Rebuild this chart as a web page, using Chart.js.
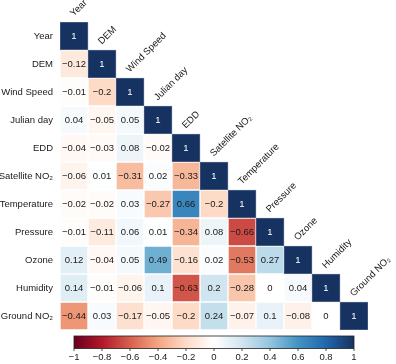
<!DOCTYPE html>
<html lang="en">
<head>
<meta charset="UTF-8">
<title>Correlation Heatmap</title>
<style>
  html, body { margin: 0; padding: 0; background: #fff; }
  #wrap { width: 396px; height: 364px; }
</style>
</head>
<body>
<div id="wrap"><canvas id="ctx"></canvas></div>
<script src="https://cdn.jsdelivr.net/npm/chart.js"></script>
<script>
// Variable names (rows and columns)
const variables = ['Year', 'DEM', 'Wind Speed', 'Julian day', 'EDD', 'Satellite NO₂',
    'Temperature', 'Pressure', 'Ozone', 'Humidity', 'Ground NO₂'];

// Lower triangle of the correlation matrix, one row per variable
const rowYear        = [1];
const rowDEM         = [-0.12, 1];
const rowWindSpeed   = [-0.01, -0.2, 1];
const rowJulianDay   = [0.04, -0.05, 0.05, 1];
const rowEDD         = [-0.04, -0.03, 0.08, -0.02, 1];
const rowSatNO2      = [-0.06, 0.01, -0.31, 0.02, -0.33, 1];
const rowTemperature = [-0.02, -0.02, 0.03, -0.27, 0.66, -0.2, 1];
const rowPressure    = [-0.01, -0.11, 0.06, 0.01, -0.34, 0.08, -0.66, 1];
const rowOzone       = [0.12, -0.04, 0.05, 0.49, -0.16, 0.02, -0.53, 0.27, 1];
const rowHumidity    = [0.14, -0.01, -0.06, 0.1, -0.63, 0.2, -0.28, 0, 0.04, 1];
const rowGroundNO2   = [-0.44, 0.03, -0.17, -0.05, -0.2, 0.24, -0.07, 0.1, -0.08, 0, 1];

const correlations = [rowYear, rowDEM, rowWindSpeed, rowJulianDay, rowEDD, rowSatNO2,
    rowTemperature, rowPressure, rowOzone, rowHumidity, rowGroundNO2];

// Colour bar ticks
const colorbarTicks = [-1, -0.8, -0.6, -0.4, -0.2, 0, 0.2, 0.4, 0.6, 0.8, 1];

// RdBu-style diverging colour map, red for -1, blue for +1
const rdbu = [
    [103, 0, 31], [178, 24, 43], [214, 96, 77], [244, 165, 130], [253, 219, 199],
    [255, 255, 255],
    [209, 229, 240], [146, 197, 222], [67, 147, 195], [33, 102, 172], [22, 50, 96]
];

function colorFor(v) {
    const t = Math.max(0, Math.min(1, (v + 1) / 2)) * (rdbu.length - 1);
    const i = Math.min(Math.floor(t), rdbu.length - 2);
    const f = t - i;
    const a = rdbu[i], b = rdbu[i + 1];
    const c = a.map((x, k) => Math.round(x + (b[k] - x) * f));
    return `rgb(${c[0]}, ${c[1]}, ${c[2]})`;
}

function fmt(v) {
    const r = Math.round(v * 100) / 100;
    if (r === 0) return '0';
    return r < 0 ? '\u2212' + String(Math.abs(r)) : String(r);
}

// One floating bar per cell of the lower triangle
const cells = [];
correlations.forEach((row, r) => {
    row.forEach((v, c) => {
        cells.push({ x: variables[c], y: [r - 0.5, r + 0.5], v: v, r: r, c: c });
    });
});

const FONT = 'Liberation Sans, Arial, sans-serif';

// Draws the value text, the diagonal column labels and the colour bar
const heatmapExtras = {
    id: 'heatmapExtras',
    afterDatasetsDraw(chart) {
        const g = chart.ctx;
        const xs = chart.scales.x, ys = chart.scales.y;
        g.save();
        g.font = '9.5px ' + FONT;
        g.textAlign = 'center';
        g.textBaseline = 'middle';
        cells.forEach(cell => {
            g.fillStyle = cell.r === cell.c ? '#ffffff' : '#1a1a1a';
            g.fillText(fmt(cell.v), xs.getPixelForValue(cell.c), ys.getPixelForValue(cell.r) + 0.5);
        });

        // Column labels along the diagonal
        g.fillStyle = '#1a1a1a';
        g.textAlign = 'left';
        variables.forEach((name, i) => {
            const cx = xs.getPixelForValue(i);
            const top = ys.getPixelForValue(i - 0.5);
            g.save();
            g.translate(cx - 2, top - 7);
            g.rotate(-Math.PI / 4);
            g.fillText(name, 0, 0);
            g.restore();
        });

        // Colour bar
        const cb = chart.scales.x2;
        const left = cb.getPixelForValue(-1), right = cb.getPixelForValue(1);
        const top = chart.chartArea.bottom + 6, h = 12.5;
        const grad = g.createLinearGradient(left, 0, right, 0);
        for (let k = 0; k <= 40; k++) {
            grad.addColorStop(k / 40, colorFor(-1 + 2 * k / 40));
        }
        g.fillStyle = grad;
        g.fillRect(left, top, right - left, h);
        g.strokeStyle = '#222';
        g.lineWidth = 0.8;
        g.strokeRect(left, top, right - left, h);
        g.beginPath();
        colorbarTicks.forEach(t => {
            const px = cb.getPixelForValue(t);
            g.moveTo(px, top + h);
            g.lineTo(px, top + h + 2.5);
        });
        g.stroke();
        g.restore();
    }
};

const data = {
    labels: variables,
    datasets: [{
        data: cells,
        backgroundColor: ctx => colorFor(ctx.raw.v),
        borderColor: ctx => ctx.raw.r === ctx.raw.c ? 'rgba(60, 80, 120, 0.9)' : 'rgba(255, 255, 255, 0.6)',
        borderWidth: 1,
        borderSkipped: false,
        categoryPercentage: 1,
        barPercentage: 1
    }]
};

const options = {
    responsive: true,
    maintainAspectRatio: false,
    animation: false,
    layout: { padding: { top: 22, right: 28, left: 0, bottom: 0 } },
    plugins: { legend: { display: false }, tooltip: { enabled: false } },
    scales: {
        x: {
            type: 'category',
            display: false,
            offset: true
        },
        y: {
            type: 'linear',
            reverse: true,
            min: -0.5,
            max: 10.5,
            grid: { display: false, drawTicks: false },
            border: { display: false },
            afterBuildTicks: scale => { scale.ticks = variables.map((_, i) => ({ value: i })); },
            afterFit: scale => { scale.width = 60; },
            ticks: {
                padding: 7,
                color: '#1a1a1a',
                font: { family: FONT, size: 9.5 },
                callback: v => variables[v]
            }
        },
        x2: {
            type: 'linear',
            position: 'bottom',
            min: -1,
            max: 1,
            grid: { display: false, drawTicks: false },
            border: { display: false },
            afterBuildTicks: scale => { scale.ticks = colorbarTicks.map(t => ({ value: t })); },
            afterFit: scale => { scale.height = 34; },
            ticks: {
                padding: 22,
                maxRotation: 0,
                autoSkip: false,
                color: '#1a1a1a',
                font: { family: FONT, size: 9.5 },
                callback: v => fmt(v)
            }
        }
    }
};

new Chart(document.getElementById('ctx'), {
    type: 'bar',
    data: data,
    options: options,
    plugins: [heatmapExtras]
});
</script>
</body>
</html>
